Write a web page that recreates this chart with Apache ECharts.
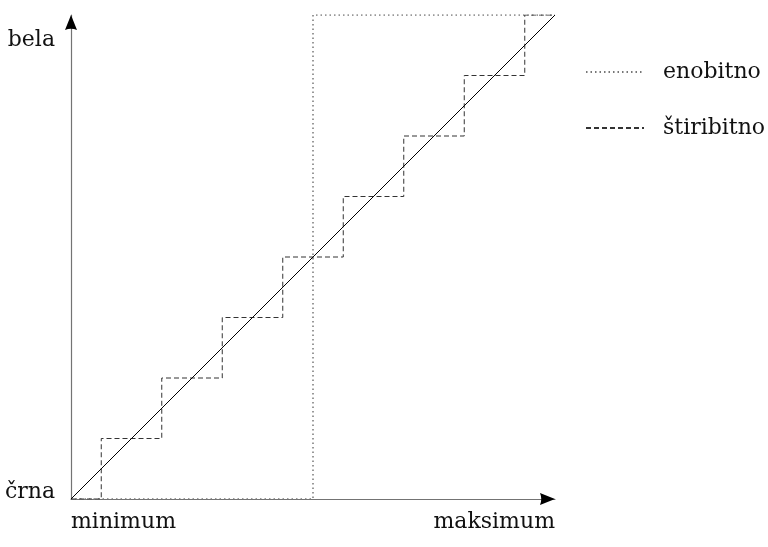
<!DOCTYPE html>
<html>
<head>
<meta charset="utf-8">
<script src="https://cdn.jsdelivr.net/npm/echarts@6/dist/echarts.min.js"></script>
<style>
  html, body { margin: 0; padding: 0; background: #fff; }
  #chart { width: 768px; height: 547px; }
</style>
</head>
<body>
<div id="chart"></div>
<script>
// Input signal range (x) and output brightness (y), both on a 0..8 scale
const xEnds = [0, 8];
const xTickLabels = ['minimum', 'maksimum'];
const yTickLabels = ['črna', 'bela'];

// Ideal (continuous) transfer: straight line from black to white
const idealX = [0, 8];
const idealY = [0, 8];

// One-bit quantisation: vertices of the threshold curve
const oneBitX = [0, 4, 4, 8];
const oneBitY = [0, 0, 8, 8];

// Multi-level quantisation: step edges and the output level held after each edge
const stepEdges = [0, 0.5, 1.5, 2.5, 3.5, 4.5, 5.5, 6.5, 7.5, 8];
const stepLevels = [0, 1, 2, 3, 4, 5, 6, 7, 8];

const seriesNames = ['enobitno', 'štiribitno'];

const FONT = 'DejaVu Serif';
const FS = 22;

function zipXY(xs, ys) {
  return xs.map((x, i) => [x, ys[i]]);
}

// Staircase vertices: hold each level from its edge to the next edge
const stairData = [];
stepLevels.forEach((lvl, i) => {
  stairData.push([stepEdges[i], lvl]);
  stairData.push([stepEdges[i + 1], lvl]);
});

const chart = echarts.init(document.getElementById('chart'), null, { renderer: 'canvas' });

// Axis line: black stroke with reduced opacity (looks grey); arrow head stays solid black
const arrowHead = 'path://M6,0L12,15Q6,12.5 0,15Z';
const axisLineStyle = {
  show: true,
  symbol: ['none', arrowHead],
  symbolSize: [12, 15],
  symbolOffset: [0, -7.5],
  lineStyle: { color: '#000', width: 1.2, opacity: 0.55 }
};

chart.setOption({
  animation: false,
  backgroundColor: '#fff',
  textStyle: { fontFamily: FONT },
  grid: { left: 71, right: 213, top: 15, bottom: 48 },
  legend: {
    data: seriesNames,
    orient: 'vertical',
    left: 580,
    top: 56,
    itemWidth: 58,
    itemHeight: 10,
    itemGap: 34,
    itemStyle: { opacity: 0 },
    textStyle: {
      fontFamily: FONT,
      fontSize: FS,
      color: '#111',
      padding: [0, 0, 0, 14]
    }
  },
  xAxis: {
    type: 'value',
    min: xEnds[0],
    max: xEnds[1],
    axisLine: axisLineStyle,
    axisTick: { show: false },
    splitLine: { show: false },
    axisLabel: {
      customValues: xEnds,
      formatter: v => (v === xEnds[0] ? xTickLabels[0] : xTickLabels[1]),
      alignMinLabel: 'left',
      alignMaxLabel: 'right',
      margin: 12,
      fontFamily: FONT,
      fontSize: FS,
      color: '#111'
    }
  },
  yAxis: {
    type: 'value',
    min: xEnds[0],
    max: xEnds[1],
    axisLine: axisLineStyle,
    axisTick: { show: false },
    splitLine: { show: false },
    axisLabel: {
      customValues: xEnds,
      formatter: v => (v === xEnds[0] ? '{lo|' + yTickLabels[0] + '}' : '{hi|' + yTickLabels[1] + '}'),
      margin: 16,
      fontFamily: FONT,
      fontSize: FS,
      color: '#111',
      rich: {
        lo: { fontFamily: FONT, fontSize: FS, color: '#111', padding: [0, 0, 14, 0] },
        hi: { fontFamily: FONT, fontSize: FS, color: '#111', padding: [50, 0, 0, 0] }
      }
    }
  },
  series: [
    {
      name: seriesNames[0],
      type: 'line',
      data: zipXY(oneBitX, oneBitY),
      symbol: 'none',
      lineStyle: { color: '#777', width: 1.5, type: [1.5, 3] },
      itemStyle: { color: '#777' },
      z: 2
    },
    {
      name: seriesNames[1],
      type: 'line',
      data: stairData,
      symbol: 'none',
      lineStyle: { color: '#333', width: 1, type: [5, 3] },
      itemStyle: { color: '#333' },
      z: 3
    },
    {
      name: 'ideal',
      type: 'line',
      data: zipXY(idealX, idealY),
      symbol: 'none',
      lineStyle: { color: '#000', width: 1 },
      z: 4
    }
  ]
});
</script>
</body>
</html>
